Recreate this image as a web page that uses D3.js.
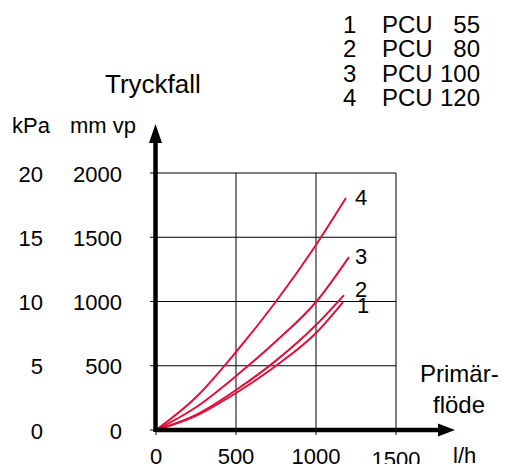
<!DOCTYPE html>
<html>
<head>
<meta charset="utf-8">
<script src="https://cdn.jsdelivr.net/npm/d3@7"></script>
<style>
  body { margin: 0; background: #fff; }
  svg { display: block; font-family: "Liberation Sans", Arial, sans-serif; }
</style>
</head>
<body>
<div id="chart"></div>
<script>
// data (flow l/h -> pressure drop mm vp)
var flow = [0, 250, 500, 750, 1000];
var pcu55 = [0, 110, 288, 500, 755, 996];
var pcu80 = [0, 118, 311, 540, 817, 1050];
var pcu100 = [0, 177, 420, 690, 996, 1346];
var pcu120 = [0, 255, 607, 1000, 1440, 1805];
var endFlow = [1169, 1175, 1206, 1187];
var curveNames = ["1", "2", "3", "4"];
var legendModels = ["55", "80", "100", "120"];
var xTicks = [0, 500, 1000, 1500];
var mmTicks = [0, 500, 1000, 1500, 2000];
var kpaTicks = [0, 5, 10, 15, 20];

var width = 508, height = 464;
var red = "#e0103a";

var x = d3.scaleLinear().domain([0, 1500]).range([156, 396]);
var y = d3.scaleLinear().domain([0, 2000]).range([430, 173]);

var svg = d3.select("#chart").append("svg")
  .attr("width", width)
  .attr("height", height);

// GRID.
svg.append("g").selectAll("line.v")
  .data(xTicks.slice(1)).enter()
  .append("line")
  .attr("x1", function(d){ return x(d); })
  .attr("x2", function(d){ return x(d); })
  .attr("y1", y(2000))
  .attr("y2", y(0))
  .attr("stroke", "#000")
  .attr("stroke-width", 1);

svg.append("g").selectAll("line.h")
  .data(mmTicks.slice(1)).enter()
  .append("line")
  .attr("x1", x(0))
  .attr("x2", x(1500))
  .attr("y1", function(d){ return y(d); })
  .attr("y2", function(d){ return y(d); })
  .attr("stroke", "#000")
  .attr("stroke-width", 1);

// small tick marks
svg.append("g").selectAll("line")
  .data(mmTicks).enter()
  .append("line")
  .attr("x1", x(0) - 6).attr("x2", x(0))
  .attr("y1", function(d){ return y(d); })
  .attr("y2", function(d){ return y(d); })
  .attr("stroke", "#000");

svg.append("g").selectAll("line")
  .data(xTicks).enter()
  .append("line")
  .attr("x1", function(d){ return x(d); })
  .attr("x2", function(d){ return x(d); })
  .attr("y1", y(0)).attr("y2", y(0) + 5)
  .attr("stroke", "#000");

// CURVES.
var series = [pcu55, pcu80, pcu100, pcu120];
var line = d3.line()
  .x(function(d){ return x(d[0]); })
  .y(function(d){ return y(d[1]); })
  .curve(d3.curveMonotoneX);

series.forEach(function(s, i){
  var pts = flow.map(function(f, j){ return [f, s[j]]; });
  pts.push([endFlow[i], s[s.length - 1]]);
  svg.append("path")
    .attr("d", line(pts))
    .attr("fill", "none")
    .attr("stroke", red)
    .attr("stroke-width", 2);
});

// curve numbers
var labelOffset = [[14, 11], [11, 2], [6, 7], [9, 7]];
svg.append("g").selectAll("text")
  .data(curveNames).enter()
  .append("text")
  .text(function(d){ return d; })
  .attr("x", function(d, i){ return x(endFlow[i]) + labelOffset[i][0]; })
  .attr("y", function(d, i){ return y(series[i][series[i].length - 1]) + labelOffset[i][1]; })
  .attr("font-size", "22px");

// AXES.
svg.append("line")
  .attr("x1", x(0)).attr("x2", 440)
  .attr("y1", y(0)).attr("y2", y(0))
  .attr("stroke", "#000").attr("stroke-width", 4.5);
svg.append("path")
  .attr("d", "M455," + y(0) + "L438," + (y(0) - 6.5) + "L438," + (y(0) + 6.5) + "Z")
  .attr("fill", "#000");

svg.append("line")
  .attr("x1", x(0) - 0.5).attr("x2", x(0) - 0.5)
  .attr("y1", y(0) + 2).attr("y2", 140)
  .attr("stroke", "#000").attr("stroke-width", 4.5);
svg.append("path")
  .attr("d", "M" + (x(0) - 0.5) + ",124L" + (x(0) - 7) + ",143L" + (x(0) + 6) + ",143Z")
  .attr("fill", "#000");

// TICK LABELS.
svg.append("g").selectAll("text")
  .data(xTicks).enter()
  .append("text")
  .text(function(d){ return d; })
  .attr("x", function(d){ return x(d); })
  .attr("y", function(d){ return d === 1500 ? 467 : 464; })
  .attr("text-anchor", "middle")
  .attr("font-size", "22px");

svg.append("g").selectAll("text")
  .data(mmTicks).enter()
  .append("text")
  .text(function(d){ return d; })
  .attr("x", 122)
  .attr("y", function(d){ return y(d) + 8.5; })
  .attr("text-anchor", "end")
  .attr("font-size", "22px");

svg.append("g").selectAll("text")
  .data(kpaTicks).enter()
  .append("text")
  .text(function(d){ return d; })
  .attr("x", 43)
  .attr("y", function(d, i){ return y(mmTicks[i]) + 8.5; })
  .attr("text-anchor", "end")
  .attr("font-size", "22px");

// TITLES.
svg.append("text").text("kPa").attr("x", 12).attr("y", 133).attr("font-size", "22px");
svg.append("text").text("mm vp").attr("x", 70).attr("y", 133).attr("font-size", "22px");
svg.append("text").text("Tryckfall").attr("x", 105).attr("y", 93).attr("font-size", "26px");
svg.append("text").text("Primär-").attr("x", 420).attr("y", 382).attr("font-size", "24px");
svg.append("text").text("flöde").attr("x", 433).attr("y", 413).attr("font-size", "24px");
svg.append("text").text("l/h").attr("x", 453).attr("y", 463).attr("font-size", "22px");

// LEGEND.
var legend = svg.append("g").selectAll("g")
  .data(curveNames).enter()
  .append("g")
  .attr("transform", function(d, i){ return "translate(0," + (33 + i * 24.3) + ")"; });
legend.append("text").text(function(d){ return d; })
  .attr("x", 343).attr("font-size", "24px");
legend.append("text").text("PCU")
  .attr("x", 382).attr("font-size", "24px");
legend.append("text").text(function(d, i){ return legendModels[i]; })
  .attr("x", 480).attr("text-anchor", "end").attr("font-size", "24px");
</script>
</body>
</html>
